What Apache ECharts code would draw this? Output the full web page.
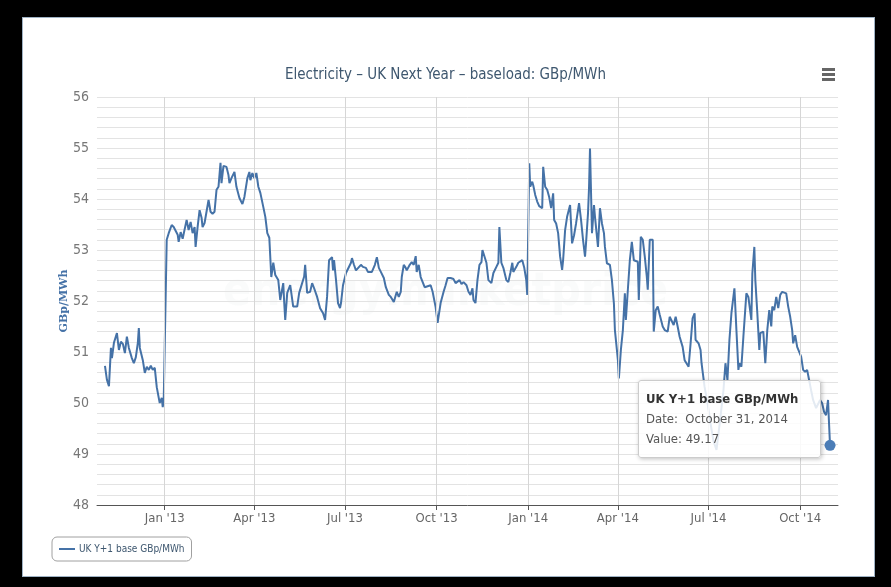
<!DOCTYPE html>
<html>
<head>
<meta charset="utf-8">
<script src="https://cdn.jsdelivr.net/npm/echarts@6/dist/echarts.min.js"></script>
<style>
  html, body { margin: 0; padding: 0; background: #000; width: 891px; height: 587px; overflow: hidden; }
  #panel { position: absolute; left: 22px; top: 17px; width: 851px; height: 558px; background: #fff; border: 1px solid #9fb2c4; }
  #chart { position: absolute; left: 0; top: 0; width: 891px; height: 587px; }
</style>
</head>
<body>
<div id="panel"></div>
<div id="chart"></div>
<script>
// ---- DATA ----
const chartTitle = 'Electricity \u2013 UK Next Year \u2013 baseload: GBp/MWh';
const seriesName = 'UK Y+1 base GBp/MWh';
const yAxisName = 'GBp/MWh';
// days since 2013-01-01
const dayOffsets = [
  -60,-58,-56,-54,-53,-51,-48,-46,-44,-42,-40,-38,-36,-33,-31,-29,-27,-26,-25,-22,-20,-18,-16,-14,-12,-10,-8,-6,-5,-3,-2,-1,
  2,4,7,9,11,13,14,16,18,20,22,24,26,28,30,31,33,35,37,38,40,42,44,46,48,50,52,54,56,57,59,62,64,65,67,70,72,75,78,80,83,85,86,88,90,92,94,96,99,101,103,105,107,109,111,114,116,119,120,121,123,125,
  126,129,133,135,137,140,141,143,146,148,150,153,156,159,161,163,165,168,169,170,172,174,176,177,179,182,184,187,188,190,192,194,197,199,202,204,208,211,213,215,217,220,222,225,227,230,232,233,235,237,238,240,242,243,246,248,250,252,253,255,257,259,261,263,267,269,272,274,277,280,282,284,287,290,292,294,296,298,300,303,305,307,309,310,312,314,316,318,319,321,323,325,328,330,333,335,336,338,340,343,345,347,349,350,353,355,357,359,361,363,364,
  366,367,369,370,372,374,376,379,380,382,384,386,388,390,391,393,395,397,399,400,402,404,407,409,411,413,416,418,420,422,423,425,426,427,429,431,432,435,437,439,441,442,444,446,447,449,451,452,454,455,456,458,460,462,463,465,467,469,471,472,475,476,478,480,482,484,485,487,490,491,493,495,497,500,502,505,507,509,511,513,515,517,520,522,526,528,530,532,533,536,538,539,542,
  545,548,551,554,558,561,563,565,567,569,572,574,576,577,579,581,584,586,589,590,592,593,595,597,598,601,603,605,607,609,610,612,614,616,618,620,622,624,626,628,630,631,633,635,637,639,641,643,645,647,649,651,654,658,660,662,664,666,667,668
];
const prices = [
  50.73,50.45,50.33,51.08,50.88,51.18,51.37,51.04,51.20,51.16,50.98,51.30,51.08,50.88,50.78,50.90,51.18,51.47,51.08,50.84,50.59,50.71,50.65,50.73,50.65,50.69,50.31,50.10,50.00,50.10,49.92,50.06,
  53.20,53.33,53.49,53.45,53.43,53.30,53.16,53.35,53.22,53.25,53.59,53.39,53.55,53.33,53.45,53.06,53.45,53.78,53.63,53.45,53.53,53.51,53.98,53.75,53.71,53.75,54.18,54.24,54.71,54.31,54.65,54.63,54.47,54.31,54.41,54.53,54.24,54.02,53.90,54.04,54.41,54.53,54.37,54.51,54.41,54.51,54.24,54.12,53.84,53.65,53.33,53.24,52.47,52.75,52.51,52.41,52.02,52.35,51.96,51.63,52.16,52.18,
  52.31,51.89,51.89,52.16,52.18,52.48,52.71,52.16,52.18,52.35,52.25,52.08,51.86,51.76,51.63,52.08,52.80,52.86,52.60,52.80,52.41,51.96,51.86,51.96,52.31,52.55,52.55,52.75,52.84,52.71,52.60,52.57,52.71,52.67,52.65,52.57,52.57,52.71,52.86,52.65,52.57,52.45,52.27,52.12,52.08,51.98,51.96,52.18,52.08,52.18,52.47,52.71,52.65,52.60,52.71,52.76,52.71,52.88,52.57,52.71,52.47,52.45,52.27,52.25,52.31,52.18,51.88,51.57,51.96,52.18,52.31,52.45,52.45,52.43,52.35,52.35,52.41,52.33,52.37,52.31,52.18,52.12,52.25,52.02,51.96,52.41,52.71,52.76,53.00,53.00,52.75,52.41,52.35,52.55,52.67,52.75,53.45,52.75,52.65,52.41,52.37,52.55,52.75,52.57,52.67,52.75,52.76,52.80,52.65,52.41,52.12,
  54.70,54.24,54.34,54.27,54.08,53.95,53.86,53.82,54.63,54.24,54.18,54.04,53.82,54.11,53.59,53.52,53.33,52.87,52.61,52.80,53.39,53.65,53.88,53.13,53.29,53.52,53.92,53.59,53.20,52.87,53.13,53.72,54.21,54.99,53.33,53.88,53.65,53.06,53.82,53.52,53.33,53.06,52.74,52.77,52.71,52.41,51.95,51.43,51.04,50.84,50.48,51.04,51.43,52.15,51.63,52.22,52.80,53.16,52.80,52.80,52.77,52.02,53.26,53.20,52.87,52.48,52.22,53.20,53.20,51.40,51.82,51.89,51.73,51.50,51.43,51.40,51.69,51.69,51.53,51.69,51.50,51.30,51.10,50.84,50.71,51.17,51.66,51.76,51.24,51.17,51.04,50.78,50.32,
  50.00,49.60,49.25,49.08,49.73,50.25,50.78,50.45,51.24,51.76,52.25,51.43,50.65,50.78,50.71,51.30,52.15,52.08,51.63,52.54,53.06,52.41,51.76,51.04,51.37,51.40,50.78,51.43,51.82,51.50,51.89,51.82,52.08,51.86,52.12,52.18,52.16,52.15,51.89,51.69,51.43,51.17,51.33,51.10,51.10,50.91,50.65,50.61,50.65,50.45,50.25,50.06,49.90,50.06,50.00,49.83,49.76,50.06,49.60,49.17
];
const xTickDates = ['2013-01-01','2013-04-01','2013-07-01','2013-10-01','2014-01-01','2014-04-01','2014-07-01','2014-10-01'];
const xTickLabels = ["Jan '13","Apr '13","Jul '13","Oct '13","Jan '14","Apr '14","Jul '14","Oct '14"];
const xRange = ['2012-10-25', '2014-11-08'];
const yMin = 48, yMax = 56, yStep = 1;
const monthNames = ['January','February','March','April','May','June','July','August','September','October','November','December'];

// ---- helpers ----
const DAY = 86400000;
const BASE = Date.UTC(2013, 0, 1);
function dateToDay(s) { const p = s.split('-').map(Number); return Math.round((Date.UTC(p[0], p[1] - 1, p[2]) - BASE) / DAY); }
function dayToDate(d) { return new Date(BASE + d * DAY); }
const seriesData = dayOffsets.map((d, i) => [d, prices[i]]);
const tickDays = xTickDates.map(dateToDay);
const lastIdx = seriesData.length - 1;

const FONT = "'DejaVu Sans Condensed', 'Liberation Sans Narrow', 'Open Sans', sans-serif";
const LINE = '#4572A7';

const chart = echarts.init(document.getElementById('chart'), null, { renderer: 'canvas' });
chart.setOption({
  animation: false,
  backgroundColor: 'transparent',
  textStyle: { fontFamily: FONT },
  title: {
    text: chartTitle, left: 'center', top: 63,
    textStyle: { fontFamily: FONT, fontSize: 15, fontWeight: 'normal', color: '#3E576F' }
  },
  grid: { left: 97, right: 53, top: 97, bottom: 82, containLabel: false },
  legend: {
    left: 52, top: 537, padding: [7, 7, 7, 7],
    borderColor: '#a0a0a0', borderWidth: 1, borderRadius: 5,
    itemWidth: 16, itemHeight: 2, icon: 'rect', itemGap: 5,
    textStyle: { fontFamily: FONT, fontSize: 10, color: '#3E576F', padding: [0, 0, 0, -1] },
    data: [seriesName]
  },
  tooltip: {
    trigger: 'axis', triggerOn: 'none', alwaysShowContent: true,
    axisPointer: { type: 'none' },
    position: [638, 380],
    backgroundColor: 'rgba(255,255,255,0.85)',
    borderColor: '#cccccc', borderWidth: 1, borderRadius: 3,
    padding: [8, 10, 8, 7],
    extraCssText: 'box-shadow: 1px 1px 4px rgba(0,0,0,0.25); width:164px;',
    formatter: function (params) {
      const p = params[0];
      const d = dayToDate(p.value[0]);
      const ds = monthNames[d.getUTCMonth()] + ' ' + d.getUTCDate() + ', ' + d.getUTCFullYear();
      const ff = 'font-family:' + FONT.replace(/'/g, '&quot;') + ';';
      return '<div style="' + ff + 'font-weight:bold;font-size:13px;color:#333;line-height:20px;">' + seriesName + '</div>' +
        '<div style="' + ff + 'font-size:13px;color:#555;line-height:20px;">Date:&nbsp;&nbsp;' + ds + '</div>' +
        '<div style="' + ff + 'font-size:13px;color:#555;line-height:20px;">Value: ' + p.value[1].toFixed(2) + '</div>';
    }
  },
  xAxis: {
    type: 'value',
    min: dateToDay(xRange[0]), max: dateToDay(xRange[1]),
    axisLine: { show: true, onZero: false, lineStyle: { color: '#555', width: 1 } },
    axisTick: { show: true, customValues: tickDays, length: 5, lineStyle: { color: '#555' } },
    axisLabel: {
      customValues: tickDays, margin: 7, fontFamily: FONT, fontSize: 13, color: '#666',
      formatter: function (v) { const i = tickDays.indexOf(Math.round(v)); return i >= 0 ? xTickLabels[i] : ''; }
    },
    splitLine: { show: false }
  },
  yAxis: {
    type: 'value', min: yMin, max: yMax, interval: yStep,
    name: yAxisName, nameLocation: 'middle', nameGap: 27, nameRotate: 90, nameMoveOverlap: false,
    nameTextStyle: { fontFamily: "'DejaVu Serif', serif", fontSize: 11, fontWeight: 'bold', color: '#4572A7' },
    axisLine: { show: false }, axisTick: { show: false },
    axisLabel: { fontFamily: FONT, fontSize: 14, color: '#777', margin: 8 },
    splitLine: { show: true, lineStyle: { color: '#e3e3e3', width: 1 } },
    minorTick: { show: false, splitNumber: 5 },
    minorSplitLine: { show: true, lineStyle: { color: '#e3e3e3', width: 1 } }
  },
  series: [
    {
      name: seriesName, type: 'line', data: seriesData,
      showSymbol: false, symbol: 'none',
      lineStyle: { color: LINE, width: 2 }, itemStyle: { color: LINE },
      emphasis: { disabled: true },
      markLine: {
        silent: true, symbol: 'none', label: { show: false },
        lineStyle: { color: '#d6d6d6', width: 1, type: 'solid' },
        data: tickDays.map(t => ({ xAxis: t }))
      },
      z: 3
    },
    {
      name: seriesName, type: 'scatter', data: [seriesData[lastIdx]],
      symbolSize: 10, itemStyle: { color: LINE, opacity: 1 }, silent: true, z: 4
    }
  ],
  graphic: [
    { type: 'text', left: 'center', top: 270, silent: true, z: 0,
      style: { text: 'energymarketprice', font: 'bold 46px ' + FONT, fill: 'rgba(190,200,210,0.08)' } },
    { type: 'rect', shape: { x: 822, y: 68, width: 13, height: 3 }, style: { fill: '#666' } },
    { type: 'rect', shape: { x: 822, y: 73, width: 13, height: 3 }, style: { fill: '#666' } },
    { type: 'rect', shape: { x: 822, y: 78, width: 13, height: 3 }, style: { fill: '#666' } }
  ]
});
chart.dispatchAction({ type: 'showTip', seriesIndex: 0, dataIndex: lastIdx });
</script>
</body>
</html>
